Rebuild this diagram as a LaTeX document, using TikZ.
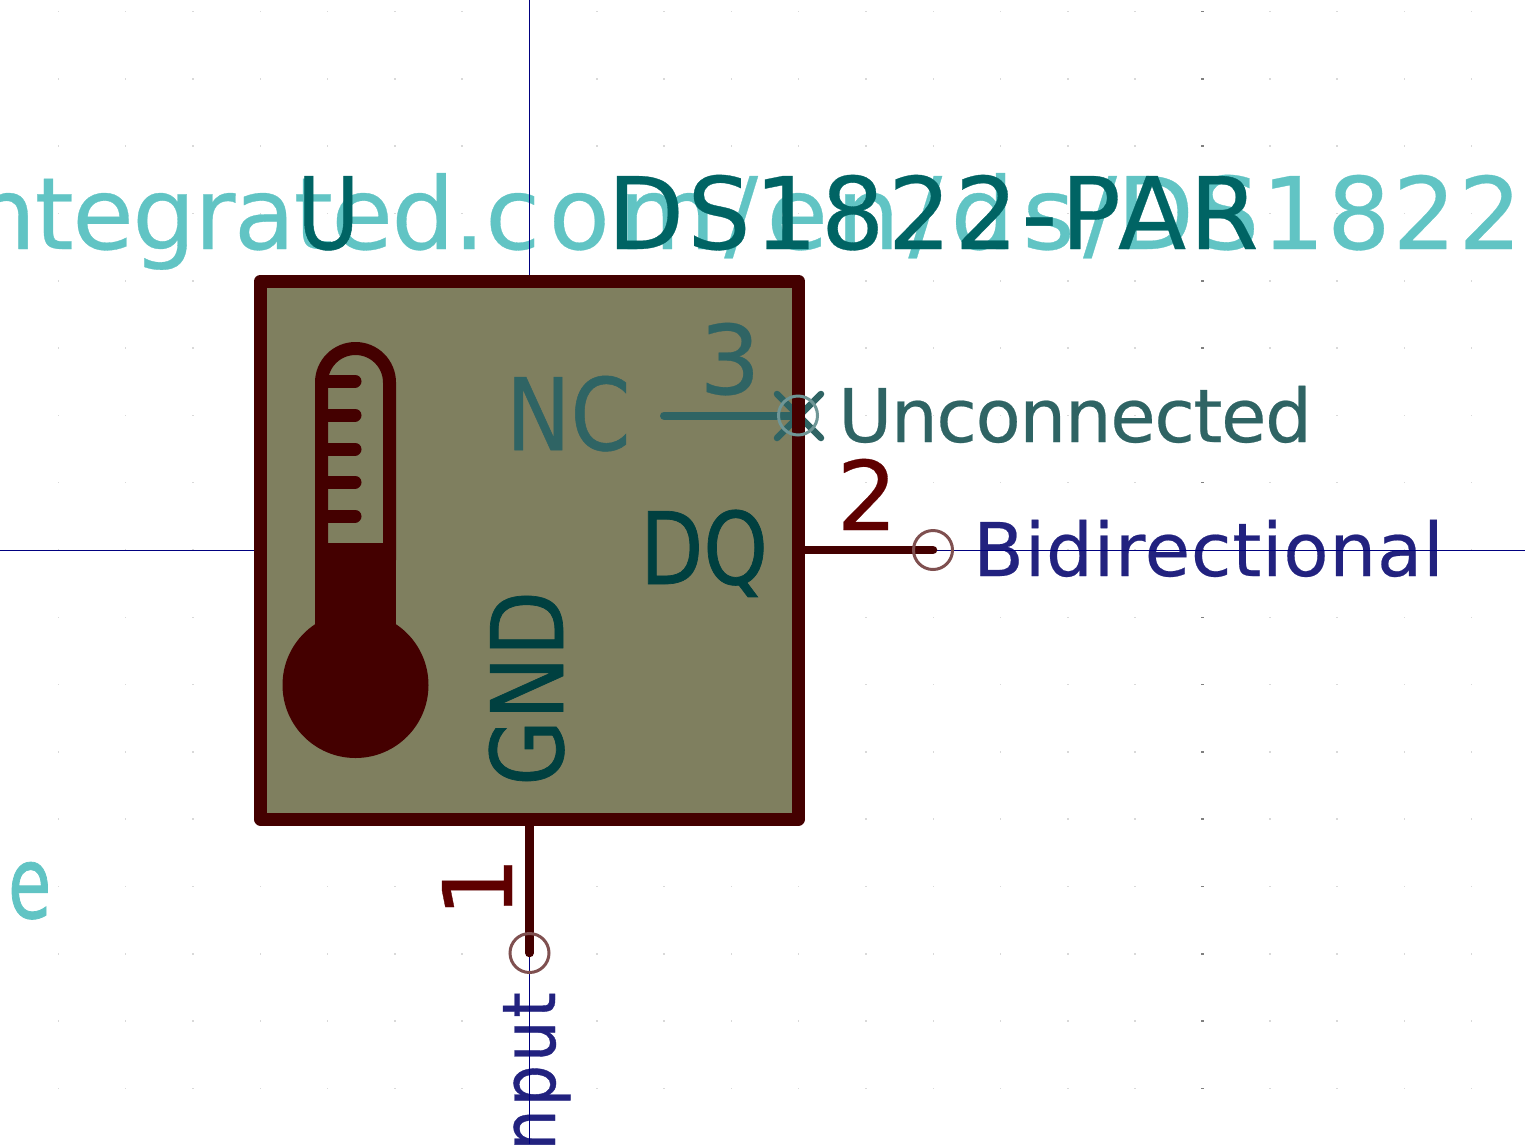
\documentclass[tikz,border=0pt]{standalone}
\usepackage{fontspec}
\newfontfamily\kifont{DejaVu Sans}

\definecolor{bodyred}{HTML}{440000}
\definecolor{pinred}{HTML}{5F0000}
\definecolor{bodyfill}{HTML}{7F7F5F}
\definecolor{fieldteal}{HTML}{006464}
\definecolor{hiddenteal}{HTML}{61C4C4}
\definecolor{nameteal}{HTML}{004040}
\definecolor{ncteal}{HTML}{2F6464}
\definecolor{ringred}{HTML}{7F5050}
\definecolor{ringteal}{HTML}{6F9696}
\definecolor{typeblue}{HTML}{22227F}
\definecolor{axisblue}{HTML}{00007F}

\tikzset{
  kitext/.style n args={3}{font=\kifont\fontsize{#1}{#1}\selectfont\addfontfeature{LetterSpace=#2,#3}, inner sep=0pt},
  griddot/.style={fill=black!15, minimum width=1.5pt, minimum height=1.5pt, inner sep=0pt},
  symbolbox/.style={fill=bodyfill, minimum size=538pt, inner sep=0pt, outer sep=0pt},
  bodyline/.style={draw=bodyred, line width=13pt, line join=round},
  pinline/.style={bodyred, line width=8.5pt, line cap=round},
  pincircle/.style={circle, draw=#1, line width=3pt, minimum size=39pt, inner sep=0pt},
}

\begin{document}
\begin{tikzpicture}[x=1pt,y=-1pt]
    \useasboundingbox (0,0) rectangle (1525,1144);
    \def\pitch{67.3}

    % Grid dots
    \foreach \i in {-7,...,14} {
      \foreach \j in {-8,...,8} {
        \node[griddot] at ({529.5+\i*\pitch},{550+\j*\pitch}) {};
      }
    }
    \foreach \j in {-8,...,8} {
      \node[griddot, fill=black!50, minimum width=3pt] at ({529.5+10*\pitch},{550+\j*\pitch}) {};
    }

    % Hidden fields
    \node[kitext={100}{2}{FakeBold=0.3}, hiddenteal, anchor=base east] (datasheet) at (1522,249)
      {{\addfontfeature{LetterSpace=-1.5}ntegrated.}{\addfontfeature{LetterSpace=8.5}com/en/ds/}DS1822};
    \node[kitext={100}{0}{FakeStretch=0.7,FakeBold=0.8}, hiddenteal, anchor=base west] (description) at (8,918) {e};

    % Pin types
    \node[kitext={74}{1}{FakeBold=0.3}, typeblue, anchor=base west] (typetwo) at (973,576) {Bidirectional};
    \node[kitext={74}{4}{FakeStretch=0.88,FakeBold=0.5}, typeblue, anchor=base east, rotate=90] (typeone) at (555,992) {nput};

    % Axes
    \coordinate (axistop) at (529.5,0);
    \coordinate (axisbottom) at (529.5,1144);
    \coordinate (axisleft) at (0,550);
    \coordinate (axisright) at (1525,550);
    \draw[axisblue, line width=1pt] (axistop) -- (axisbottom);
    \draw[axisblue, line width=1pt] (axisleft) -- (axisright);

    % Symbol body
    \node[symbolbox] (body) at (529.5,550) {};

    % Thermometer
    \def\tuberad{34}
    \fill[bodyred] (315,543) rectangle (396,650);
    \fill[bodyred] (355.5,685) circle (73);
    \draw[bodyred, line width=13pt] (321.5,560) -- (321.5,382.5) arc[start angle=180, end angle=0, x radius=\tuberad, y radius=-\tuberad] -- (389.5,560);
    \foreach \y in {381,415,449,482,516} {
      \draw[bodyred, line width=13pt, line cap=round] (321.5,\y) -- (355,\y);
    }

    % Pin 3 and its flag lie under the outline
    \coordinate (pinthreein) at (664,415.5);
    \coordinate (pinthreeout) at (798,415.5);
    \coordinate (flaga) at (777,394);
    \coordinate (flagb) at (821,438);
    \coordinate (flagc) at (777,438);
    \coordinate (flagd) at (821,394);
    \draw[ncteal, line width=8pt, line cap=round] (pinthreein) -- (pinthreeout);
    \draw[ncteal, line width=6.5pt, line cap=round] (flaga) -- (flagb);
    \draw[ncteal, line width=6.5pt, line cap=round] (flagc) -- (flagd);

    \draw[bodyline] (body.north west) rectangle (body.south east);

    % Pins
    \coordinate (pintwoout) at (933,550);
    \coordinate (pinoneout) at (529.5,953);
    \draw[pinline] (body.east) -- (pintwoout);
    \draw[pinline] (body.south) -- (pinoneout);

    \node[pincircle=ringred] (circletwo) at (pintwoout) {};
    \node[pincircle=ringred] (circleone) at (pinoneout) {};
    \node[pincircle=ringteal] (circlethree) at (pinthreeout) {};

    % Texts
    \node[kitext={100}{0}{FakeStretch=0.85,FakeBold=0.5}, fieldteal, anchor=base west] (reference) at (297,249) {U};
    \node[kitext={100}{3.2}{FakeBold=0.3}, fieldteal, anchor=base west] (value) at (607,249) {DS1822-PAR};

    \node[kitext={100}{0}{FakeStretch=0.86,FakeBold=0.5}, ncteal, anchor=base west] (namenc) at (506,450) {NC};
    \node[kitext={100}{0}{FakeStretch=0.82,FakeBold=0.7}, nameteal, anchor=base west] (namedq) at (640,584) {DQ};
    \node[kitext={100}{0}{FakeStretch=0.85,FakeBold=0.7}, nameteal, anchor=base west, rotate=90] (namegnd) at (563,786) {GND};

    \node[kitext={96}{0}{FakeBold=0.3}, ncteal, anchor=base] (numthree) at (730,394) {3};
    \node[kitext={96}{0}{FakeBold=0.3}, pinred, anchor=base] (numtwo) at (867,530) {2};
    \node[kitext={96}{0}{FakeBold=0.3}, pinred, anchor=base, rotate=90] (numone) at (512,887) {1};

    \node[kitext={74}{-2}{FakeBold=0.3}, ncteal, anchor=base west] (typethree) at (838,442) {Unconnected};
\end{tikzpicture}
\end{document}
